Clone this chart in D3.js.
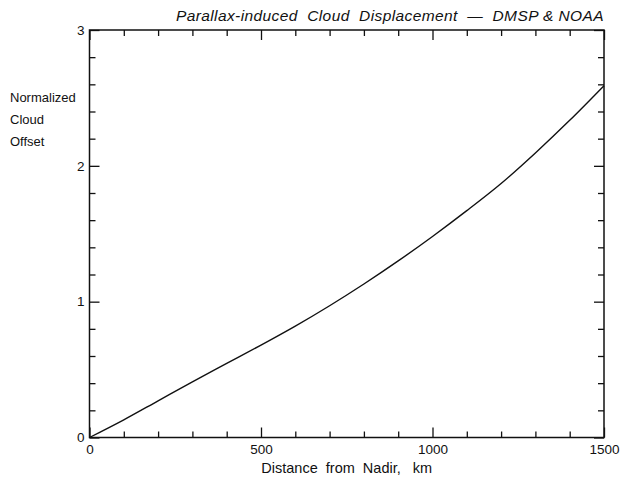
<!DOCTYPE html>
<html>
<head>
<meta charset="utf-8">
<script src="https://cdn.jsdelivr.net/npm/d3@7"></script>
<style>
  body { margin: 0; background: #fff; }
  svg { display: block; font-family: "Liberation Sans", Arial, Helvetica, sans-serif; }
</style>
</head>
<body>
<svg id="chart" width="620" height="482"></svg>
<script>
// Distance from the sub-satellite point (km) and normalized parallax offset
const distanceKm = [0, 100, 200, 300, 400, 500, 600, 700, 800, 900, 1000, 1100, 1200, 1300, 1400, 1500];
const offsetNorm = [0, 0.13, 0.27, 0.41, 0.545, 0.68, 0.82, 0.97, 1.13, 1.30, 1.48, 1.67, 1.87, 2.095, 2.335, 2.59];

const xMajorTicks = [0, 500, 1000, 1500];
const xMinorTicks = [100, 200, 300, 400, 600, 700, 800, 900, 1100, 1200, 1300, 1400];
const yMajorTicks = [0, 1, 2, 3];
const yMinorTicks = [0.2, 0.4, 0.6, 0.8, 1.2, 1.4, 1.6, 1.8, 2.2, 2.4, 2.6, 2.8];

const titleText = "Parallax-induced  Cloud  Displacement  —  DMSP & NOAA";
const xTitle = "Distance  from  Nadir,   km";
const yTitleLines = ["Normalized", "Cloud", "Offset"];

const plot = { left: 89.5, right: 604, top: 30, bottom: 437.5 };
const majorLen = 10, minorLen = 6;

const svg = d3.select("#chart");

const x = d3.scaleLinear().domain([0, 1500]).range([plot.left, plot.right]);
const y = d3.scaleLinear().domain([0, 3]).range([plot.bottom, plot.top]);

function styleAxis(g) {
  g.select(".domain").remove();
  g.selectAll(".tick line").attr("stroke", "#111").attr("stroke-width", 1.3);
  g.selectAll(".tick text").attr("fill", "#111").attr("font-size", 13.5);
}

// Bottom axis: inward ticks with labels on majors
svg.append("g")
  .attr("transform", `translate(0,${plot.bottom})`)
  .call(d3.axisBottom(x).tickValues(xMajorTicks).tickSize(-majorLen).tickPadding(7).tickFormat(d3.format("d")))
  .call(styleAxis);
svg.append("g")
  .attr("transform", `translate(0,${plot.bottom})`)
  .call(d3.axisBottom(x).tickValues(xMinorTicks).tickSize(-minorLen).tickFormat(""))
  .call(styleAxis);

// Top axis: ticks only
svg.append("g")
  .attr("transform", `translate(0,${plot.top})`)
  .call(d3.axisTop(x).tickValues(xMajorTicks).tickSize(-majorLen).tickFormat(""))
  .call(styleAxis);
svg.append("g")
  .attr("transform", `translate(0,${plot.top})`)
  .call(d3.axisTop(x).tickValues(xMinorTicks).tickSize(-minorLen).tickFormat(""))
  .call(styleAxis);

// Left axis with labels
svg.append("g")
  .attr("transform", `translate(${plot.left},0)`)
  .call(d3.axisLeft(y).tickValues(yMajorTicks).tickSize(-majorLen).tickPadding(5).tickFormat(d3.format("d")))
  .call(styleAxis);
svg.append("g")
  .attr("transform", `translate(${plot.left},0)`)
  .call(d3.axisLeft(y).tickValues(yMinorTicks).tickSize(-minorLen).tickFormat(""))
  .call(styleAxis);

// Right axis: ticks only
svg.append("g")
  .attr("transform", `translate(${plot.right},0)`)
  .call(d3.axisRight(y).tickValues(yMajorTicks).tickSize(-majorLen).tickFormat(""))
  .call(styleAxis);
svg.append("g")
  .attr("transform", `translate(${plot.right},0)`)
  .call(d3.axisRight(y).tickValues(yMinorTicks).tickSize(-minorLen).tickFormat(""))
  .call(styleAxis);

// Frame
svg.append("rect")
  .attr("x", plot.left).attr("y", plot.top)
  .attr("width", plot.right - plot.left).attr("height", plot.bottom - plot.top)
  .attr("fill", "none").attr("stroke", "#111").attr("stroke-width", 1.5);

// Offset curve
const line = d3.line()
  .x((d, i) => x(distanceKm[i]))
  .y(d => y(d))
  .curve(d3.curveCatmullRom);
svg.append("path")
  .datum(offsetNorm)
  .attr("d", line)
  .attr("fill", "none")
  .attr("stroke", "#111")
  .attr("stroke-width", 1.4);

// Title
svg.append("text")
  .attr("x", plot.right).attr("y", 21)
  .attr("text-anchor", "end")
  .attr("font-size", 15.5)
  .attr("font-style", "italic")
  .attr("letter-spacing", 0.4)
  .attr("fill", "#111")
  .style("white-space", "pre")
  .text(titleText);

// X axis title
svg.append("text")
  .attr("x", (plot.left + plot.right) / 2).attr("y", 473)
  .attr("text-anchor", "middle")
  .attr("font-size", 14.5)
  .attr("fill", "#111")
  .style("white-space", "pre")
  .text(xTitle);

// Y axis title (stacked lines)
svg.append("text")
  .attr("x", 10).attr("y", 102)
  .attr("font-size", 13)
  .attr("fill", "#111")
  .selectAll("tspan")
  .data(yTitleLines)
  .join("tspan")
  .attr("x", 10)
  .attr("dy", (d, i) => i === 0 ? 0 : 22)
  .text(d => d);
</script>
</body>
</html>
